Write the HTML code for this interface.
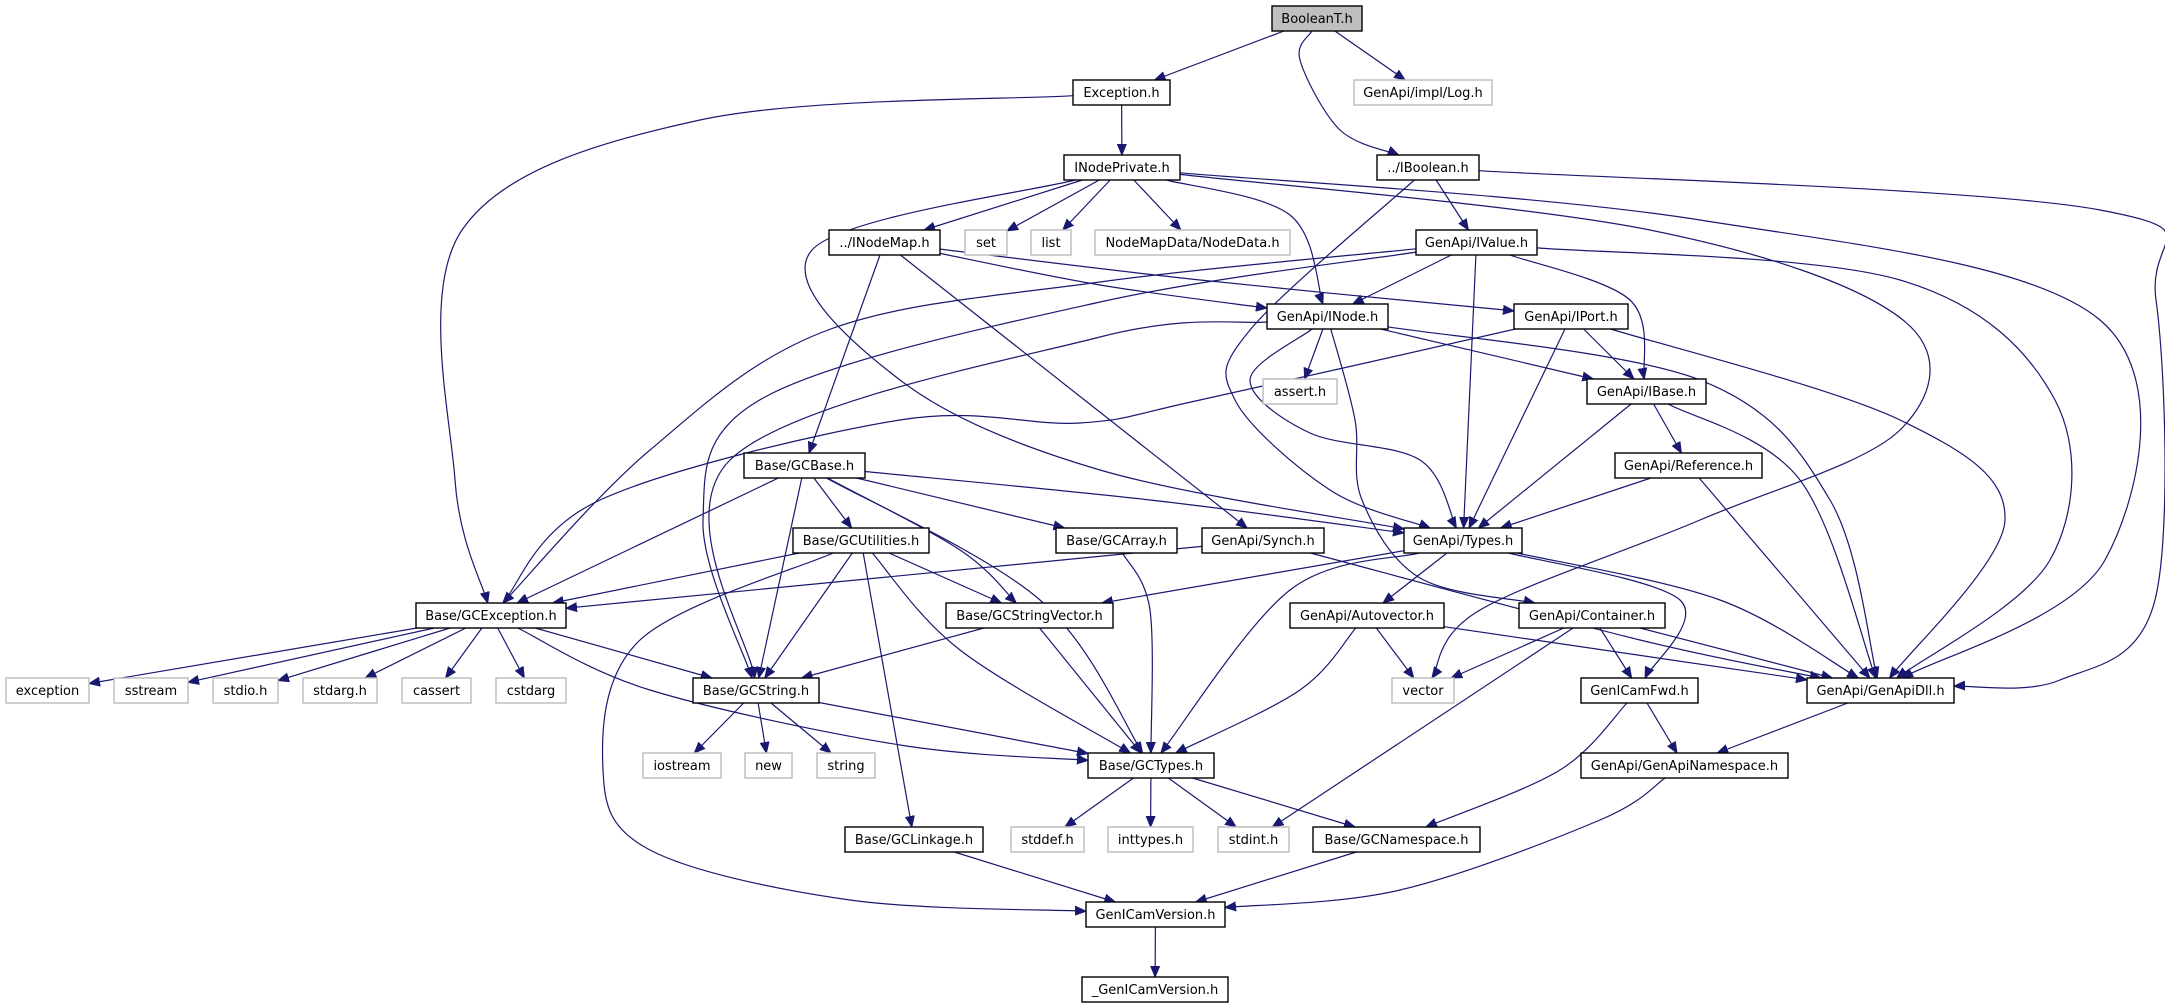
<!DOCTYPE html>
<html><head><meta charset="utf-8">
<style>
html,body{margin:0;padding:0;background:#fff;}
svg{display:block;}
text{font-family:"DejaVu Sans","Liberation Sans",sans-serif;font-size:13px;}
</style></head>
<body>
<svg id="g" xmlns="http://www.w3.org/2000/svg" width="2165" height="1008" viewBox="0 0 2165 1008">
<defs>
<marker id="ah" markerUnits="userSpaceOnUse" markerWidth="12" markerHeight="10" refX="11" refY="5" orient="auto">
<path d="M0,0.5 L11,5 L0,9.5 z" fill="#191970" stroke="#191970" stroke-width="1"/>
</marker>
</defs>
<g id="edges" fill="none" stroke="#191970" stroke-width="1.2"></g>
<g id="nodes"></g>
</svg>
<script>
var N={
BooleanT:["BooleanT.h",1272,1362,6,2],
Exception:["Exception.h",1073,1170,80],
Log:["GenApi/impl/Log.h",1354,1492,80,1],
INodePrivate:["INodePrivate.h",1064,1180,155],
IBoolean:["../IBoolean.h",1377,1479,155],
INodeMap:["../INodeMap.h",829,940,230],
set:["set",965,1007,230,1],
list:["list",1031,1071,230,1],
NodeData:["NodeMapData/NodeData.h",1095,1290,230,1],
IValue:["GenApi/IValue.h",1416,1537,230],
INode:["GenApi/INode.h",1267,1388,304],
IPort:["GenApi/IPort.h",1514,1628,304],
assert:["assert.h",1263,1337,379,1],
IBase:["GenApi/IBase.h",1587,1706,379],
Reference:["GenApi/Reference.h",1615,1762,453],
GCBase:["Base/GCBase.h",744,865,453],
GCUtilities:["Base/GCUtilities.h",793,929,528],
GCArray:["Base/GCArray.h",1056,1177,528],
Synch:["GenApi/Synch.h",1202,1324,528],
Types:["GenApi/Types.h",1404,1522,528],
GCException:["Base/GCException.h",416,566,603],
GCStringVector:["Base/GCStringVector.h",946,1113,603],
Autovector:["GenApi/Autovector.h",1290,1444,603],
Container:["GenApi/Container.h",1519,1665,603],
exception:["exception",6,89,678,1],
sstream:["sstream",114,188,678,1],
stdio:["stdio.h",213,278,678,1],
stdarg:["stdarg.h",303,377,678,1],
cassert:["cassert",402,471,678,1],
cstdarg:["cstdarg",496,566,678,1],
GCString:["Base/GCString.h",693,819,678],
vector:["vector",1392,1454,678,1],
GenICamFwd:["GenICamFwd.h",1581,1698,678],
GenApiDll:["GenApi/GenApiDll.h",1807,1954,678],
iostream:["iostream",643,721,753,1],
"new":["new",745,792,753,1],
string:["string",817,875,753,1],
GCTypes:["Base/GCTypes.h",1088,1214,753],
GenApiNamespace:["GenApi/GenApiNamespace.h",1581,1788,753],
GCLinkage:["Base/GCLinkage.h",845,983,827],
stddef:["stddef.h",1011,1084,827,1],
inttypes:["inttypes.h",1108,1193,827,1],
stdint:["stdint.h",1218,1289,827,1],
GCNamespace:["Base/GCNamespace.h",1313,1480,827],
GenICamVersion:["GenICamVersion.h",1086,1225,902],
_GenICamVersion:["_GenICamVersion.h",1082,1228,977]
};
var H=25;
var E=[
["BooleanT","Exception"],["BooleanT","Log"],["BooleanT","IBoolean",[[1300,60],[1340,130]]],
["Exception","INodePrivate"],["Exception","GCException",[[700,120],[462,230],[455,480]]],
["INodePrivate","INodeMap"],["INodePrivate","set"],["INodePrivate","list"],["INodePrivate","NodeData"],
["INodePrivate","INode",[[1290,215]]],
["INodePrivate","Types",[[812,250],[900,380],[1100,470]]],
["INodePrivate","GenApiDll",[[1700,220],[2100,320],[2105,560]]],
["INodePrivate","vector",[[1650,230],[1903,320],[1900,430],[1700,520],[1480,610]]],
["IBoolean","IValue"],["IBoolean","Types",[[1250,330],[1235,400],[1330,490]]],
["IBoolean","GenApiDll",[[2100,210],[2156,300],[2155,600],[2060,680]]],
["INodeMap","INode",[[1100,285]]],["INodeMap","IPort",[[1200,280]]],["INodeMap","GCBase"],["INodeMap","Synch"],
["IValue","INode"],["IValue","Types"],["IValue","IBase",[[1630,300]]],
["IValue","GenApiDll",[[1900,280],[2055,400],[2050,560]]],
["IValue","GCException",[[1100,282],[828,330],[650,450]]],
["IValue","GCString",[[1100,302],[765,397],[703,520]]],
["INode","assert"],["INode","IBase"],["INode","Types",[[1250,380],[1310,433],[1420,460]]],
["INode","Container",[[1355,420],[1362,500],[1420,578]]],
["INode","GenApiDll",[[1700,380],[1830,500]]],
["INode","GCString",[[1100,337],[730,460]]],
["IPort","IBase"],["IPort","Types"],["IPort","GenApiDll",[[1900,420],[2005,520]]],
["IPort","GCException",[[1200,400],[1080,423],[900,420],[600,500]]],
["IBase","Reference"],["IBase","Types"],["IBase","GenApiDll",[[1800,480]]],
["Reference","Types"],["Reference","GenApiDll"],
["GCBase","GCUtilities"],["GCBase","GCArray"],["GCBase","GCException"],["GCBase","GCString"],
["GCBase","GCStringVector",[[960,550]]],["GCBase","GCTypes",[[1040,600]]],["GCBase","Types",[[1150,500]]],
["GCUtilities","GCException"],["GCUtilities","GCString"],["GCUtilities","GCStringVector"],
["GCUtilities","GCTypes",[[960,650]]],["GCUtilities","GCLinkage"],
["GCUtilities","GenICamVersion",[[640,640],[603,770],[650,850],[850,900]]],
["GCArray","GCTypes",[[1150,610]]],
["Synch","GCException"],["Synch","GenApiDll",[[1640,640]]],
["Types","GCStringVector"],["Types","GCTypes",[[1290,590]]],["Types","Autovector"],
["Types","GenICamFwd",[[1680,600]]],["Types","GenApiDll",[[1720,600]]],
["GCException","exception"],["GCException","sstream"],["GCException","stdio"],["GCException","stdarg"],
["GCException","cassert"],["GCException","cstdarg"],["GCException","GCString"],
["GCException","GCTypes",[[650,690],[900,745]]],
["GCStringVector","GCString"],["GCStringVector","GCTypes"],
["Autovector","vector"],["Autovector","GCTypes",[[1300,690]]],["Autovector","GenApiDll"],
["Container","vector"],["Container","stdint"],["Container","GenICamFwd"],["Container","GenApiDll"],
["GCString","iostream"],["GCString","new"],["GCString","string"],["GCString","GCTypes"],
["GenICamFwd","GenApiNamespace"],["GenICamFwd","GCNamespace",[[1560,770]]],
["GenApiDll","GenApiNamespace"],
["GCTypes","stddef"],["GCTypes","inttypes"],["GCTypes","stdint"],["GCTypes","GCNamespace"],
["GCLinkage","GenICamVersion"],["GCNamespace","GenICamVersion"],
["GenApiNamespace","GenICamVersion",[[1600,820],[1400,890]]],
["GenICamVersion","_GenICamVersion"]
];
function box(id){var n=N[id];return {x1:n[1],x2:n[2],y1:n[3],y2:n[3]+H,cx:(n[1]+n[2])/2,cy:n[3]+H/2};}
function clip(b,p){var dx=p[0]-b.cx,dy=p[1]-b.cy;if(dx==0&&dy==0)return [b.cx,b.cy];
var hw=(b.x2-b.x1)/2,hh=H/2;var t=Math.min(dx!=0?hw/Math.abs(dx):1e9,dy!=0?hh/Math.abs(dy):1e9);
return [b.cx+dx*t,b.cy+dy*t];}
var eg=document.getElementById('edges'),ng=document.getElementById('nodes'),NS="http://www.w3.org/2000/svg";
E.forEach(function(e){var s=box(e[0]),t=box(e[1]),w=e[2]||[];
var first=w.length?w[0]:[t.cx,t.cy],last=w.length?w[w.length-1]:[s.cx,s.cy];
var pts=[clip(s,first)].concat(w,[clip(t,last)]);
var d="M"+pts[0][0].toFixed(1)+","+pts[0][1].toFixed(1);
if(pts.length==2){d+=" L"+pts[1][0].toFixed(1)+","+pts[1][1].toFixed(1);}
else{for(var i=0;i<pts.length-1;i++){var p0=pts[Math.max(0,i-1)],p1=pts[i],p2=pts[i+1],p3=pts[Math.min(pts.length-1,i+2)];
var c1=[p1[0]+(p2[0]-p0[0])/6,p1[1]+(p2[1]-p0[1])/6],c2=[p2[0]-(p3[0]-p1[0])/6,p2[1]-(p3[1]-p1[1])/6];
d+=" C"+c1[0].toFixed(1)+","+c1[1].toFixed(1)+" "+c2[0].toFixed(1)+","+c2[1].toFixed(1)+" "+p2[0].toFixed(1)+","+p2[1].toFixed(1);}}
var p=document.createElementNS(NS,"path");p.setAttribute("d",d);p.setAttribute("marker-end","url(#ah)");eg.appendChild(p);});
for(var id in N){var n=N[id],b=box(id);
var r=document.createElementNS(NS,"rect");r.setAttribute("x",b.x1);r.setAttribute("y",b.y1);r.setAttribute("width",b.x2-b.x1);r.setAttribute("height",H);
r.setAttribute("fill",n[4]==2?"#bfbfbf":"#fff");r.setAttribute("stroke",n[4]==1?"#bfbfbf":"#000");r.setAttribute("stroke-width",n[4]==1?"1.5":"1.4");ng.appendChild(r);
var tx=document.createElementNS(NS,"text");tx.setAttribute("x",b.cx);tx.setAttribute("y",b.y1+17);tx.setAttribute("text-anchor","middle");tx.setAttribute("fill","#000");
tx.textContent=n[0];ng.appendChild(tx);}
</script>
</body></html>
